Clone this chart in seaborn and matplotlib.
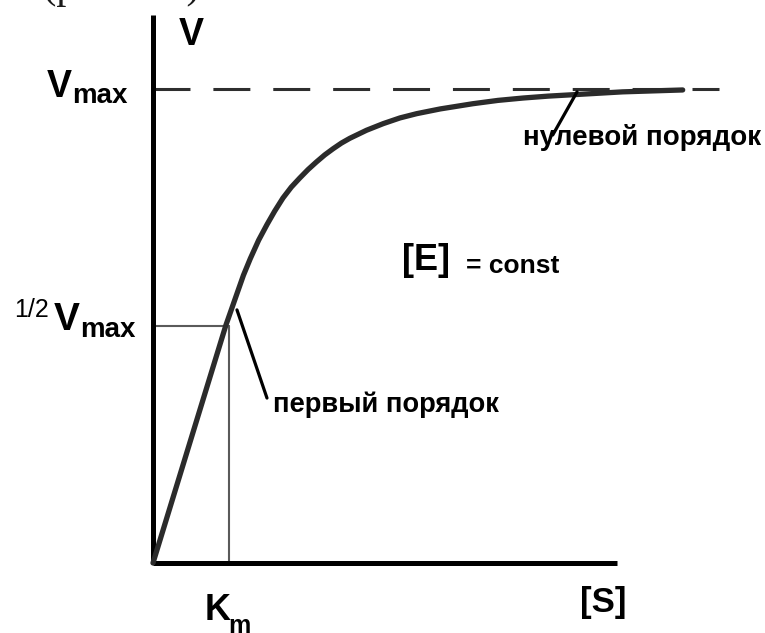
import matplotlib
matplotlib.use("Agg")
import matplotlib.pyplot as plt
import seaborn as sns
import pandas as pd

# Michaelis–Menten saturation curve, V as a function of [S] (V in units of Vmax, [S] in units of Km)
s_values = [0.0, 0.30, 0.60, 0.96, 1.10, 1.19, 1.28, 1.39, 1.50, 1.60, 1.71, 1.82,
            1.93, 2.04, 2.15, 2.26, 2.37, 2.48, 2.59, 2.81, 3.03, 3.25, 3.47, 3.78,
            4.21, 4.54, 4.87, 5.20, 5.53, 6.18, 6.97]
v_values = [0.0, 0.157, 0.314, 0.502, 0.566, 0.607, 0.642, 0.681, 0.714, 0.742, 0.770, 0.793,
            0.812, 0.830, 0.846, 0.861, 0.874, 0.886, 0.896, 0.913, 0.927, 0.939, 0.948, 0.958,
            0.969, 0.976, 0.981, 0.985, 0.988, 0.994, 0.998]

v_max = 1.0
k_m = 1.0
half_v = v_max / 2
s_axis_end = 6.105
v_axis_end = 1.156
dash_end = 7.45

y_label = "V"
x_label = "[S]"
vmax_label = ("V", "max")
half_label = ("1/2", "V", "max")
km_label = ("K", "m")
enzyme_label = ("[E]", "= const")
first_order = "первый порядок"
zero_order = "нулевой порядок"
caption = "а (рис. 3.7)."

sns.set_theme(style="white")
plt.rcParams["font.family"] = ["Liberation Sans", "DejaVu Sans"]

fig = plt.figure(figsize=(7.65, 6.33), dpi=100)
ax = fig.add_axes([0, 0, 1, 1])
ax.set_xlim(-2.013, 8.053)
ax.set_ylim(-0.1477, 1.1878)

df = pd.DataFrame({"S": s_values, "V": v_values})
sns.lineplot(data=df, x="S", y="V", ax=ax, color="#2b2b2b", linewidth=3.8,
             sort=False, solid_capstyle="round", solid_joinstyle="round", zorder=3)

# Vmax asymptote
ax.plot([0, dash_end], [v_max, v_max], color="#2e2e2e", linewidth=2.2,
        linestyle=(0, (12.1, 7.5)), zorder=2)
# Km / half-Vmax guides
ax.plot([0, k_m], [half_v, half_v], color="#5a5a5a", linewidth=1.5, zorder=2)
ax.plot([k_m, k_m], [0, half_v], color="#5a5a5a", linewidth=1.5, zorder=2)

# axes drawn as spines from the origin
for side in ["top", "right"]:
    ax.spines[side].set_visible(False)
for side in ["left", "bottom"]:
    ax.spines[side].set_position(("data", 0))
    ax.spines[side].set_linewidth(3.6)
    ax.spines[side].set_color("black")
    ax.spines[side].set_capstyle("butt")
ax.spines["left"].set_bounds(0, v_axis_end)
ax.spines["bottom"].set_bounds(0, s_axis_end)
ax.set_xticks([])
ax.set_yticks([])
ax.set_xlabel("")
ax.set_ylabel("")
ax.set_facecolor("white")

bold = dict(fontweight="bold", color="black", clip_on=False)

ax.text(0.5, 1.093, y_label, fontsize=27, ha="center", va="baseline", **bold)
ax.text(5.93, -0.084, x_label, fontsize=25, ha="center", va="center", **bold)

ax.text(-1.07, 0.983, vmax_label[0], fontsize=27, ha="right", va="baseline", **bold)
ax.text(-1.07, 0.970, vmax_label[1], fontsize=20, ha="left", va="baseline", **bold)

ax.text(-1.37, 0.519, half_label[0], fontsize=18, ha="right", va="baseline",
        color="black", clip_on=False)
ax.text(-0.96, 0.4916, half_label[1], fontsize=28, ha="right", va="baseline", **bold)
ax.text(-0.96, 0.4768, half_label[2], fontsize=20, ha="left", va="baseline", **bold)

ax.text(0.684, -0.120, km_label[0], fontsize=26, ha="left", va="baseline", **bold)
ax.text(0.99, -0.147, km_label[1], fontsize=18, ha="left", va="baseline", **bold)

ax.text(3.59, 0.639, enzyme_label[0], fontsize=26, ha="center", va="center", **bold)
ax.text(4.12, 0.612, enzyme_label[1], fontsize=19, ha="left", va="baseline", **bold)

ax.text(1.58, 0.319, first_order, fontsize=19.7, ha="left", va="baseline", **bold)
ax.text(4.87, 0.882, zero_order, fontsize=20, ha="left", va="baseline", **bold)

# leader lines for the kinetic-order labels
ax.plot([1.105, 1.50], [0.534, 0.348], color="black", linewidth=2.3, zorder=4)
ax.plot([5.58, 5.26], [0.994, 0.903], color="black", linewidth=2.3, zorder=4)

ax.text(0.75, 1.1925, caption, fontsize=29, ha="right", va="baseline",
        family=["Liberation Serif", "DejaVu Serif"], color="#1a1a1a", clip_on=False)

fig.savefig("out.png", dpi=100, facecolor="white")
